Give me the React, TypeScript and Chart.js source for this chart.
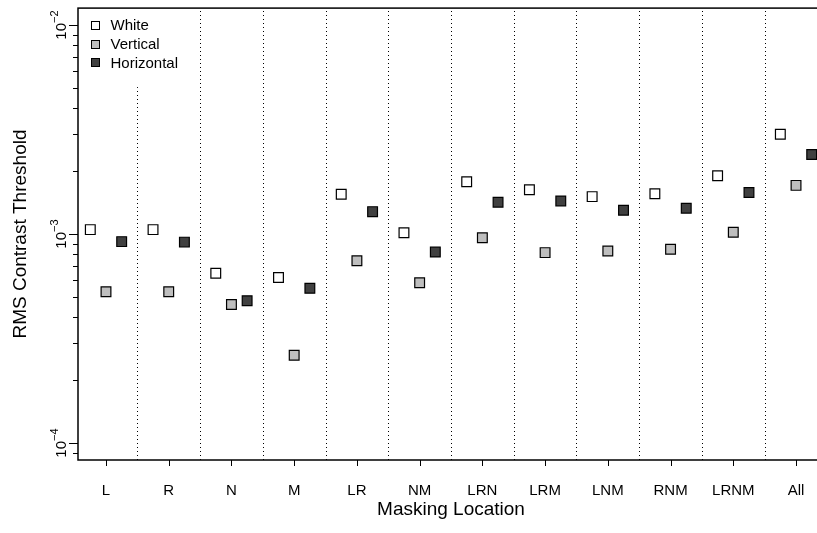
import React, { useEffect, useRef } from "react";
import { Chart, registerables } from "chart.js";

Chart.register(...registerables);

// Masking conditions along the x axis
const categories = ["L", "R", "N", "M", "LR", "NM", "LRN", "LRM", "LNM", "RNM", "LRNM", "All"];

// RMS contrast thresholds per masking condition
const whiteValues = [1.05e-3, 1.05e-3, 6.5e-4, 6.2e-4, 1.55e-3, 1.015e-3, 1.78e-3, 1.63e-3, 1.51e-3, 1.56e-3, 1.9e-3, 3.0e-3];
const verticalValues = [5.3e-4, 5.3e-4, 4.6e-4, 2.63e-4, 7.45e-4, 5.85e-4, 9.6e-4, 8.15e-4, 8.3e-4, 8.45e-4, 1.02e-3, 1.71e-3];
const horizontalValues = [9.2e-4, 9.15e-4, 4.8e-4, 5.5e-4, 1.28e-3, 8.2e-4, 1.42e-3, 1.44e-3, 1.3e-3, 1.33e-3, 1.58e-3, 2.4e-3];

const seriesNames = ["White", "Vertical", "Horizontal"];

// Major y ticks (decades) and their exponent labels
const yDecades = [1e-4, 1e-3, 1e-2];
const yExponents = ["\u22124", "\u22123", "\u22122"];
const minorMultipliers = [2, 3, 4, 5, 6, 7, 8, 9];

const xTitle = "Masking Location";
const yTitle = "RMS Contrast Threshold";

const FONT = "'Liberation Sans', Arial, Helvetica, sans-serif";
const fills = ["#ffffff", "#bebebe", "#404040"];
const offsets = [-0.25, 0, 0.25];

const axesPlugin = {
  id: "rAxes",
  beforeDatasetsDraw(chart: any) {
    const { ctx, chartArea, scales } = chart;
    const xs = scales.x;
    ctx.save();
    ctx.strokeStyle = "#000";
    ctx.lineWidth = 1;
    ctx.setLineDash([1, 3]);
    for (let i = 1; i < categories.length; i++) {
      const px = Math.round(xs.getPixelForValue(i + 0.5)) + 0.5;
      ctx.beginPath();
      ctx.moveTo(px, chartArea.bottom);
      ctx.lineTo(px, chartArea.top);
      ctx.stroke();
    }
    ctx.restore();
  },
  afterDatasetsDraw(chart: any) {
    const { ctx, chartArea, scales } = chart;
    const xs = scales.x;
    const ys = scales.y;
    ctx.save();

    // legend (white background covers the separator behind it)
    ctx.fillStyle = "#fff";
    ctx.fillRect(chartArea.left + 1, chartArea.top + 1, 115, 78);
    const rows = [25, 43.7, 62.4];
    ctx.font = `15px ${FONT}`;
    ctx.textAlign = "left";
    ctx.textBaseline = "alphabetic";
    seriesNames.forEach((name, k) => {
      const cy = rows[k];
      ctx.fillStyle = fills[k];
      ctx.fillRect(91.5, Math.round(cy) - 3.5, 8, 8);
      ctx.strokeStyle = "#000";
      ctx.lineWidth = 1;
      ctx.strokeRect(91.5, Math.round(cy) - 3.5, 8, 8);
      ctx.fillStyle = "#000";
      ctx.fillText(name, 110.5, cy + 5.4);
    });

    // plot frame
    ctx.strokeStyle = "#000";
    ctx.lineWidth = 1.5;
    ctx.strokeRect(chartArea.left, chartArea.top, chartArea.right - chartArea.left, chartArea.bottom - chartArea.top);

    // x ticks and labels
    ctx.lineWidth = 1;
    ctx.font = `15px ${FONT}`;
    ctx.textAlign = "center";
    ctx.fillStyle = "#000";
    categories.forEach((c, i) => {
      const px = Math.round(xs.getPixelForValue(i + 1)) + 0.5;
      ctx.beginPath();
      ctx.moveTo(px, chartArea.bottom);
      ctx.lineTo(px, chartArea.bottom + 6);
      ctx.stroke();
      ctx.fillText(c, xs.getPixelForValue(i + 1), 495);
    });

    // y ticks: majors and minors
    const yMin = ys.min;
    const yMax = ys.max;
    const tickAt = (v: number, len: number) => {
      const py = Math.round(ys.getPixelForValue(v)) + 0.5;
      ctx.beginPath();
      ctx.moveTo(chartArea.left, py);
      ctx.lineTo(chartArea.left - len, py);
      ctx.stroke();
    };
    const decadesAll = [1e-5, ...yDecades];
    decadesAll.forEach((d) => {
      minorMultipliers.forEach((m) => {
        const v = d * m;
        if (v >= yMin && v <= yMax) tickAt(v, 5);
      });
    });
    yDecades.forEach((d, k) => {
      tickAt(d, 9);
      const py = ys.getPixelForValue(d);
      ctx.save();
      ctx.translate(66, py);
      ctx.rotate(-Math.PI / 2);
      ctx.font = `15px ${FONT}`;
      const w10 = ctx.measureText("10").width;
      ctx.font = `11px ${FONT}`;
      const wExp = ctx.measureText(yExponents[k]).width;
      const start = -(w10 + wExp) / 2;
      ctx.textAlign = "left";
      ctx.font = `15px ${FONT}`;
      ctx.fillText("10", start, 0);
      ctx.font = `11px ${FONT}`;
      ctx.fillText(yExponents[k], start + w10, -8);
      ctx.restore();
    });

    // axis titles
    ctx.font = `19px ${FONT}`;
    ctx.textAlign = "center";
    ctx.fillText(xTitle, (chartArea.left + chartArea.right) / 2, 515);
    ctx.save();
    ctx.translate(25.7, (chartArea.top + chartArea.bottom) / 2);
    ctx.rotate(-Math.PI / 2);
    ctx.fillText(yTitle, 0, 0);
    ctx.restore();

    ctx.restore();
  },
};

export default function App() {
  const canvasRef = useRef<HTMLCanvasElement | null>(null);

  useEffect(() => {
    const canvas = canvasRef.current;
    if (!canvas) return;
    const seriesValues = [whiteValues, verticalValues, horizontalValues];
    const chart = new Chart(canvas, {
      type: "scatter",
      data: {
        datasets: seriesNames.map((name, k) => ({
          label: name,
          data: seriesValues[k].map((v, i) => ({ x: i + 1 + offsets[k], y: v })),
          pointStyle: "rect",
          pointRadius: 6.9,
          pointHoverRadius: 6.9,
          backgroundColor: fills[k],
          borderColor: "#000",
          borderWidth: 1.2,
          showLine: false,
        })),
      },
      options: {
        responsive: false,
        animation: false,
        devicePixelRatio: 1,
        layout: { padding: { left: 78, top: 4, right: 16, bottom: 73 } },
        plugins: { legend: { display: false }, tooltip: { enabled: false } },
        events: [],
        scales: {
          x: { type: "linear", display: false, min: 0.5538, max: 12.446 },
          y: { type: "logarithmic", display: false, min: 8.3e-5, max: 0.01205 },
        },
      },
      plugins: [axesPlugin],
    });
    return () => chart.destroy();
  }, []);

  return (
    <div style={{ position: "fixed", left: 0, top: 0, width: 817, height: 533, overflow: "hidden", background: "#fff" }}>
      <canvas ref={canvasRef} width={840} height={533} style={{ width: 840, height: 533, display: "block" }} />
    </div>
  );
}
